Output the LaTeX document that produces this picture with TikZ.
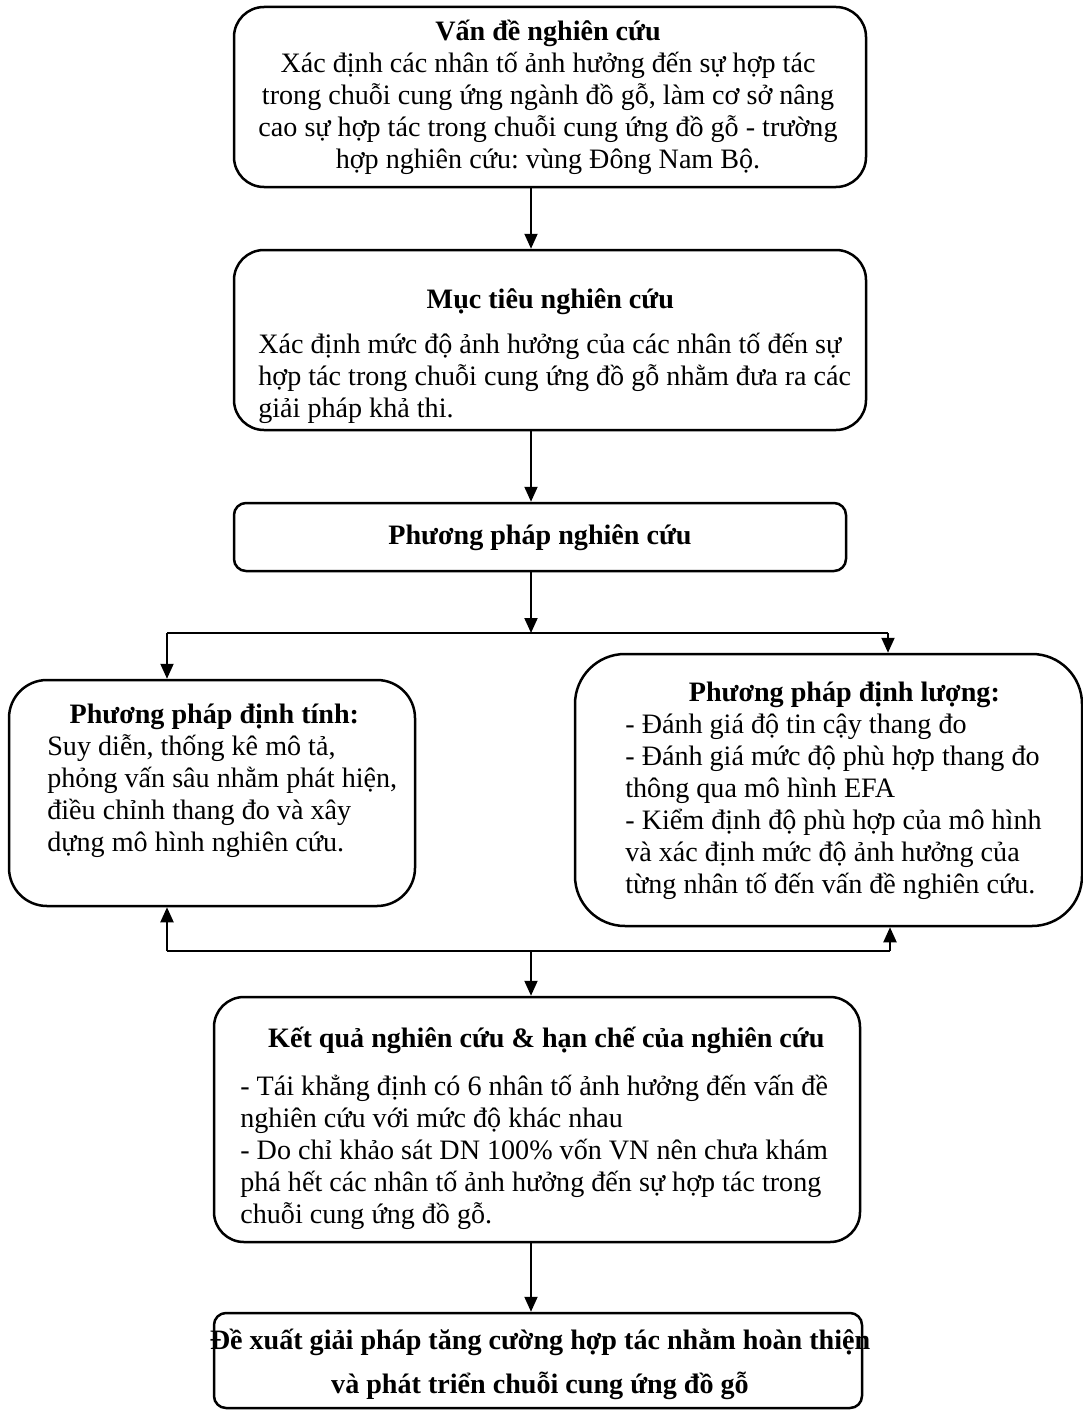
\documentclass[tikz,border=0pt]{standalone}
\usepackage{fontspec}
\setmainfont{Liberation Serif}
\usetikzlibrary{arrows.meta,fit}
\frenchspacing

% zentrierte Kopfzeile ueber fester Breite
\newcommand{\kopfzeile}[2]{\makebox[#1]{\textbf{#2}}}

\begin{document}
\begin{tikzpicture}[
    x=0.2mm, y=-0.2mm,
    font=\fontsize{16}{18.2}\selectfont,
    kasten/.style={draw, line width=0.5mm, inner sep=0pt, rounded corners=6mm},
    inhalt/.style={inner sep=0pt},
    linie/.style={line width=0.4mm},
    pfeil/.style={linie, -{Triangle[length=3mm, width=2.6mm]}}
  ]
  \useasboundingbox (0,0) rectangle (1083,1412);

  % Kaesten
  \node[kasten, fit={(234,7) (866,187)}] (vande) {};
  \node[kasten, fit={(234,250) (866,430)}] (ziel) {};
  \node[kasten, rounded corners=2.4mm, fit={(234,503) (846,571)}] (methode) {};
  \node[kasten, rounded corners=7.6mm, fit={(9,680) (415,906)}] (qual) {};
  \node[kasten, rounded corners=10mm, fit={(575,654) (1082,926)}] (quant) {};
  \node[kasten, fit={(214,997) (860,1242)}] (ergebnis) {};
  \node[kasten, rounded corners=2.4mm, fit={(214,1313) (862,1408)}] (vorschlag) {};

  % Texte
  \node[inhalt, align=center] (vande-text) at (548,97)
    {\textbf{Vấn đề nghiên cứu}\\
     Xác định các nhân tố ảnh hưởng đến sự hợp tác\\
     trong chuỗi cung ứng ngành đồ gỗ, làm cơ sở nâng\\
     cao sự hợp tác trong chuỗi cung ứng đồ gỗ - trường\\
     hợp nghiên cứu: vùng Đông Nam Bộ.};
  \node[inhalt, anchor=west, align=left] (ziel-text) at (258,356)
    {\kopfzeile{116.8mm}{Mục tiêu nghiên cứu}\\[7pt]
     Xác định mức độ ảnh hưởng của các nhân tố đến sự\\
     hợp tác trong chuỗi cung ứng đồ gỗ nhằm đưa ra các\\
     giải pháp khả thi.};
  \node[inhalt, font=\fontsize{16}{18.2}\selectfont\bfseries] (methode-text) at (540,538)
    {Phương pháp nghiên cứu};
  \node[inhalt, anchor=west, align=left] (qual-text) at (47,781)
    {\kopfzeile{66.8mm}{Phương pháp định tính:}\\
     Suy diễn, thống kê mô tả,\\
     phỏng vấn sâu nhằm phát hiện,\\
     điều chỉnh thang đo và xây\\
     dựng mô hình nghiên cứu.};
  \node[inhalt, anchor=west, align=left] (quant-text) at (625,791)
    {\kopfzeile{87.6mm}{Phương pháp định lượng:}\\
     - Đánh giá độ tin cậy thang đo\\
     - Đánh giá mức độ phù hợp thang đo\\
     thông qua mô hình EFA\\
     - Kiểm định độ phù hợp của mô hình\\
     và xác định mức độ ảnh hưởng của\\
     từng nhân tố đến vấn đề nghiên cứu.};
  \node[inhalt, anchor=west, align=left] (ergebnis-text) at (240,1128)
    {\kopfzeile{122.4mm}{Kết quả nghiên cứu \& hạn chế của nghiên cứu}\\[9pt]
     - Tái khẳng định có 6 nhân tố ảnh hưởng đến vấn đề\\
     nghiên cứu với mức độ khác nhau\\
     - Do chỉ khảo sát DN 100\% vốn VN nên chưa khám\\
     phá hết các nhân tố ảnh hưởng đến sự hợp tác trong\\
     chuỗi cung ứng đồ gỗ.};
  \node[inhalt, align=center, font=\fontsize{16}{18.2}\selectfont\bfseries] (vorschlag-text) at (540,1364)
    {Đề xuất giải pháp tăng cường hợp tác nhằm hoàn thiện\\[7pt]
     và phát triển chuỗi cung ứng đồ gỗ};

  % Verbindungen
  \coordinate (mitte) at (531,0);
  \coordinate (gabel) at (531,633);
  \coordinate (gabel-l) at (167,633);
  \coordinate (gabel-r) at (888,633);
  \coordinate (sammel) at (531,951);
  \coordinate (sammel-l) at (167,951);
  \coordinate (sammel-r) at (890,951);

  \draw[pfeil] (vande.south -| mitte) -- (ziel.north -| mitte);
  \draw[pfeil] (ziel.south -| mitte) -- (methode.north -| mitte);
  \draw[pfeil] (methode.south -| mitte) -- (gabel);
  \draw[linie] (gabel-l) -- (gabel-r);
  \draw[pfeil] (gabel-l) -- (qual.north -| gabel-l);
  \draw[pfeil] (gabel-r) -- (quant.north -| gabel-r);

  \draw[linie] (sammel-l) -- (sammel-r);
  \draw[pfeil] (sammel-l) -- (qual.south -| sammel-l);
  \draw[pfeil] (sammel-r) -- (quant.south -| sammel-r);
  \draw[pfeil] (sammel) -- (ergebnis.north -| sammel);
  \draw[pfeil] (ergebnis.south -| mitte) -- (vorschlag.north -| mitte);
\end{tikzpicture}
\end{document}
